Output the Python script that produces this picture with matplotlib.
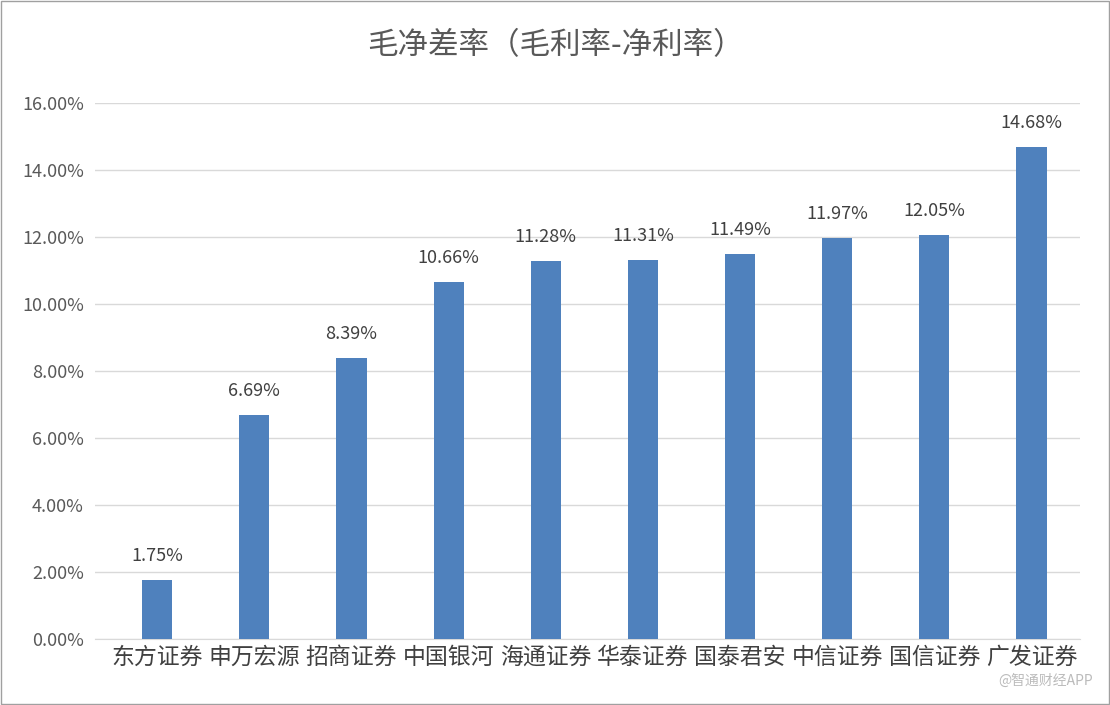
import matplotlib
matplotlib.use("Agg")
import matplotlib.pyplot as plt
from matplotlib.ticker import FuncFormatter

plt.rcParams['font.family'] = ['Noto Sans CJK SC', 'DejaVu Sans']

categories = ["东方证券", "申万宏源", "招商证券", "中国银河", "海通证券", "华泰证券", "国泰君安", "中信证券", "国信证券", "广发证券"]
values = [1.75, 6.69, 8.39, 10.66, 11.28, 11.31, 11.49, 11.97, 12.05, 14.68]
yticks = [0, 2, 4, 6, 8, 10, 12, 14, 16]

fig = plt.figure(figsize=(11.1, 7.05), dpi=100)
ax = fig.add_axes([0.0856, 0.0936, 0.8874, 0.7604])
x = range(len(categories))
ax.bar(x, values, width=0.31, color="#4F81BD", zorder=3)
for i, v in zip(x, values):
    ax.text(i, v + 0.45, f"{v:.2f}%", ha="center", va="bottom", fontsize=13, color="#404040")
ax.set_ylim(0, 16)
ax.set_xlim(-0.64, 9.5)
ax.set_yticks(yticks)
ax.yaxis.set_major_formatter(FuncFormatter(lambda v, p: f"{v:.2f}%"))
ax.set_xticks(list(x))
ax.set_xticklabels(categories, fontsize=16.5, color="#404040")
ax.tick_params(axis="y", labelsize=13, labelcolor="#595959", length=0, pad=8)
ax.tick_params(axis="x", length=0, pad=5)
ax.grid(axis="y", color="#D9D9D9", linewidth=1, zorder=0)
for s in ["top", "right", "left"]:
    ax.spines[s].set_visible(False)
ax.spines["bottom"].set_color("#D9D9D9")
fig.text(0.5, 0.935, "毛净差率（毛利率-净利率）", ha="center", va="center", fontsize=22, color="#595959")
fig.text(0.985, 0.035, "@智通财经APP", ha="right", va="center", fontsize=10, color="#BBBBBB")
fig.patches.append(plt.Rectangle((0.001, 0.001), 0.998, 0.998, transform=fig.transFigure,
                                 fill=False, edgecolor="#A0A0A0", linewidth=1))
fig.savefig("out.png", dpi=100)
